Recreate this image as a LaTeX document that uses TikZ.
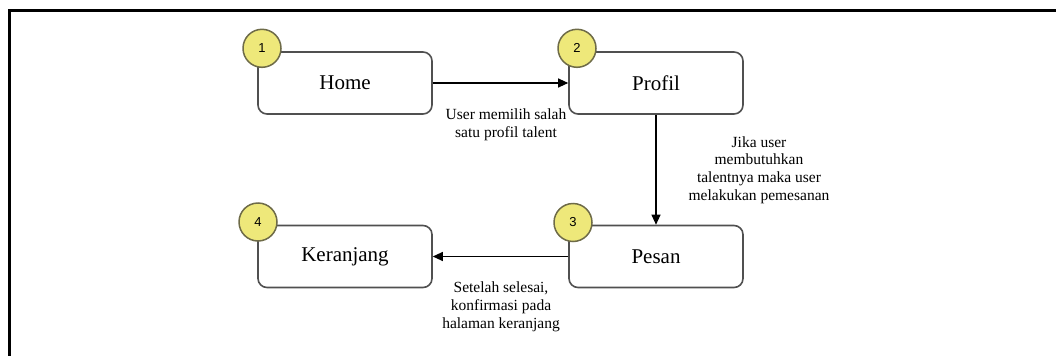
\documentclass[tikz,border=0pt]{standalone}
\usepackage{fontspec}
\setmainfont{Liberation Serif}
\newfontfamily\numfont{Liberation Sans}
\usetikzlibrary{arrows.meta}
\definecolor{boxline}{HTML}{505050}
\definecolor{badgefill}{HTML}{EEE87A}
\definecolor{badgeline}{HTML}{6E6B48}
\tikzset{
  pagebox/.style={draw=boxline, line width=1.6pt, rounded corners=9pt, fill=white,
    minimum width=174pt, minimum height=62pt, inner sep=0pt,
    font=\fontsize{21}{24}\selectfont},
  badge/.style={circle, draw=badgeline, fill=badgefill, line width=1.5pt,
    minimum size=38pt, inner sep=0pt, font=\numfont\fontsize{13}{15}\selectfont},
  flow/.style={draw=black, line width=1.1pt, -{Triangle[length=10pt,width=9pt]}},
  note/.style={align=center, inner sep=0pt, font=\fontsize{15.5}{17.8}\selectfont}
}
\begin{document}
\begin{tikzpicture}[x=1pt,y=-1pt]
\useasboundingbox (0,0) rectangle (1056,356);
% frame edges
\draw[line width=3pt] (1056,10) -- (9,10) -- (9,356);

% pages
\node[pagebox] (home) at (345,83) {Home};
\node[pagebox] (profil) at (656,83) {Profil};
\node[pagebox] (pesan) at (656,256.5) {Pesan};
\node[pagebox] (keranjang) at (345,256.5) {Keranjang};

% step badges
\node[badge] (b1) at (262,48.3) {1};
\node[badge] (b2) at (577,48.3) {2};
\node[badge] (b3) at (573,222.5) {3};
\node[badge] (b4) at (258,222) {4};

% transitions
\draw[flow] (home.east) -- (profil.west);
\draw[flow] (profil.south) -- (pesan.north);
\draw[flow] (pesan.west) -- (keranjang.east);

% transition notes
\node[note] (n1) at (506,125) {User memilih salah\\satu profil talent};
\node[note] (n2) at (759,170) {Jika user\\membutuhkan\\talentnya maka user\\melakukan pemesanan};
\node[note] (n3) at (501,307) {Setelah selesai,\\konfirmasi pada\\halaman keranjang};
\end{tikzpicture}
\end{document}
